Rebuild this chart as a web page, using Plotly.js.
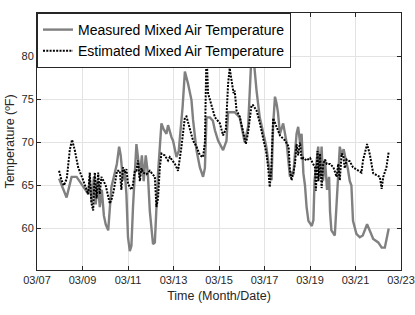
<!DOCTYPE html>
<html>
<head>
<meta charset="utf-8">
<script src="https://cdn.plot.ly/plotly-3.0.1.min.js"></script>
<style>html,body{margin:0;padding:0;background:#fff}#chart{width:415px;height:315px}</style>
</head>
<body>
<div id="chart"></div>
<script>
// Day of March (fractional) and temperatures in ºF
const measuredDays = [7.97,8.30,8.52,8.74,9.10,9.25,9.32,9.41,9.50,9.58,9.67,9.76,9.85,9.94,10.02,10.13,10.27,10.42,10.51,10.61,10.68,10.78,10.86,10.93,11.00,11.08,11.15,11.22,11.37,11.45,11.52,11.61,11.69,11.78,11.87,11.96,12.10,12.18,12.32,12.47,12.57,12.69,12.76,12.91,12.98,13.13,13.23,13.40,13.50,13.64,13.79,13.86,14.01,14.16,14.30,14.38,14.45,14.60,14.73,14.82,14.96,15.18,15.33,15.40,15.69,15.91,16.13,16.28,16.43,16.53,16.65,16.79,16.94,17.08,17.23,17.31,17.38,17.46,17.53,17.59,17.68,17.82,17.97,18.12,18.19,18.27,18.41,18.48,18.56,18.63,18.71,18.78,18.85,18.93,19.08,19.15,19.20,19.36,19.44,19.51,19.57,19.66,19.75,19.84,19.88,19.94,20.09,20.15,20.22,20.31,20.39,20.48,20.57,20.66,20.75,20.82,20.89,21.04,21.19,21.32,21.51,21.63,21.78,22.00,22.15,22.29,22.46];
const measuredTemp = [65.8,63.6,66.0,66.0,64.6,64.0,65.8,63.0,66.0,62.8,65.5,62.5,64.5,61.5,60.5,59.8,64.8,66.4,67.5,69.5,68.5,65.6,66.5,64.0,59.0,57.4,58.0,62.5,69.8,68.0,66.0,68.5,65.5,68.5,66.5,62.0,58.2,58.4,66.4,72.2,71.5,71.0,72.0,70.6,70.2,68.3,69.0,74.1,78.2,76.8,74.9,72.6,69.1,67.1,66.0,67.0,72.9,72.9,72.5,71.4,70.2,69.1,70.2,73.5,73.5,72.9,70.0,71.8,80.3,79.5,76.0,72.9,71.0,69.5,66.5,65.6,72.0,75.3,74.5,73.5,71.0,72.2,70.0,66.0,66.5,66.4,71.0,71.8,70.0,71.0,66.4,65.0,62.5,60.9,60.3,61.0,65.6,69.5,66.0,69.5,65.5,68.0,64.5,66.0,62.0,59.8,59.2,62.0,66.0,69.5,68.5,69.2,68.0,67.0,65.5,65.0,60.9,59.4,59.0,59.2,60.5,59.8,58.8,58.4,57.8,57.8,60.0];

const estimatedDays = [7.97,8.08,8.18,8.31,8.44,8.54,8.66,8.81,9.03,9.25,9.32,9.39,9.47,9.54,9.62,9.69,9.76,9.83,9.91,10.02,10.20,10.29,10.38,10.52,10.64,10.71,10.78,10.86,10.93,11.00,11.15,11.21,11.30,11.37,11.44,11.52,11.59,11.66,11.81,11.96,12.18,12.25,12.32,12.40,12.47,12.61,12.76,12.84,13.06,13.20,13.35,13.50,13.57,13.72,13.86,14.01,14.16,14.30,14.38,14.45,14.52,14.67,14.82,15.04,15.18,15.30,15.40,15.47,15.55,15.64,15.69,15.77,15.91,16.06,16.18,16.27,16.43,16.50,16.65,16.79,16.94,17.08,17.16,17.23,17.30,17.38,17.53,17.68,17.91,18.06,18.12,18.19,18.27,18.34,18.41,18.48,18.56,18.63,18.71,18.85,19.00,19.15,19.22,19.26,19.33,19.37,19.44,19.51,19.58,19.66,19.74,19.88,20.03,20.17,20.24,20.31,20.39,20.46,20.53,20.61,20.75,20.89,21.11,21.26,21.33,21.51,21.63,21.78,21.93,22.07,22.15,22.22,22.36,22.46];
const estimatedTemp = [66.7,65.6,65.0,65.8,69.1,70.3,69.1,67.1,65.6,64.0,66.5,63.0,62.1,66.5,63.5,66.5,64.0,66.0,65.6,65.0,62.9,63.5,64.5,66.7,66.7,64.5,67.1,66.5,66.9,65.2,64.5,65.0,66.7,66.7,67.9,65.5,67.0,66.5,66.3,66.7,66.0,62.5,63.5,67.1,68.7,68.5,67.9,68.3,67.5,66.7,69.5,72.9,73.0,71.4,70.2,69.5,68.5,68.3,70.0,80.5,75.7,74.3,72.9,72.2,70.8,71.5,76.8,78.6,77.0,75.7,76.0,73.7,73.0,71.0,69.8,71.0,74.3,74.3,73.7,72.3,70.5,68.8,67.1,64.8,67.0,72.8,71.8,70.8,70.2,69.5,66.7,65.6,66.5,67.5,69.8,68.5,70.0,68.0,68.2,67.9,68.2,67.5,67.1,64.4,69.0,65.5,68.7,64.7,67.5,68.0,67.5,67.5,67.1,66.0,67.5,65.6,68.7,68.5,67.0,68.0,67.8,67.1,66.7,66.5,67.9,69.8,68.6,66.4,66.2,66.0,64.6,66.0,67.1,68.9];

const seriesNames = ['Measured Mixed Air Temperature','Estimated Mixed Air Temperature'];
const yTicks = [60,65,70,75,80];

const toDate = d => Date.UTC(2017, 2, 1) + (d - 1) * 86400000;
const axisColor = '#262626';
const font = 'Liberation Sans, Arial, sans-serif';

const traces = [
  {x: measuredDays.map(toDate), y: measuredTemp, type: 'scatter', mode: 'lines',
   name: seriesNames[0], line: {color: '#808080', width: 2.4}},
  {x: estimatedDays.map(toDate), y: estimatedTemp, type: 'scatter', mode: 'lines',
   name: seriesNames[1], line: {color: '#000000', width: 2, dash: '2px,1.3px'}}
];

const layout = {
  width: 415, height: 315,
  margin: {l: 37, r: 14, t: 13, b: 45},
  paper_bgcolor: '#fff', plot_bgcolor: '#fff',
  font: {family: font, color: axisColor, size: 11},
  showlegend: true,
  legend: {x: 0, y: 1, xanchor: 'left', yanchor: 'top',
    bgcolor: '#fff', bordercolor: axisColor, borderwidth: 1,
    font: {family: font, size: 14, color: '#000'},
    tracegroupgap: 0, itemwidth: 30},
  xaxis: {type: 'date', range: [toDate(7), toDate(23)],
    tick0: toDate(7), dtick: 2 * 86400000, tickformat: '%m/%d',
    showgrid: true, gridcolor: '#e3e3e3', gridwidth: 1,
    showline: true, linecolor: axisColor, linewidth: 1, mirror: 'ticks',
    ticks: 'inside', ticklen: 4, tickcolor: axisColor,
    zeroline: false, tickfont: {size: 11, color: axisColor},
    title: {text: 'Time (Month/Date)', font: {size: 12.5, color: axisColor}, standoff: 6}},
  yaxis: {range: [55.2, 85], tickvals: yTicks,
    showgrid: true, gridcolor: '#e3e3e3', gridwidth: 1,
    showline: true, linecolor: axisColor, linewidth: 1, mirror: 'ticks',
    ticks: 'inside', ticklen: 4, tickcolor: axisColor,
    zeroline: false, tickfont: {size: 11, color: axisColor},
    title: {text: 'Temperature (ºF)', font: {size: 12.5, color: axisColor}, standoff: 4}}
};

Plotly.newPlot('chart', traces, layout, {displayModeBar: false, staticPlot: true});
</script>
</body>
</html>
